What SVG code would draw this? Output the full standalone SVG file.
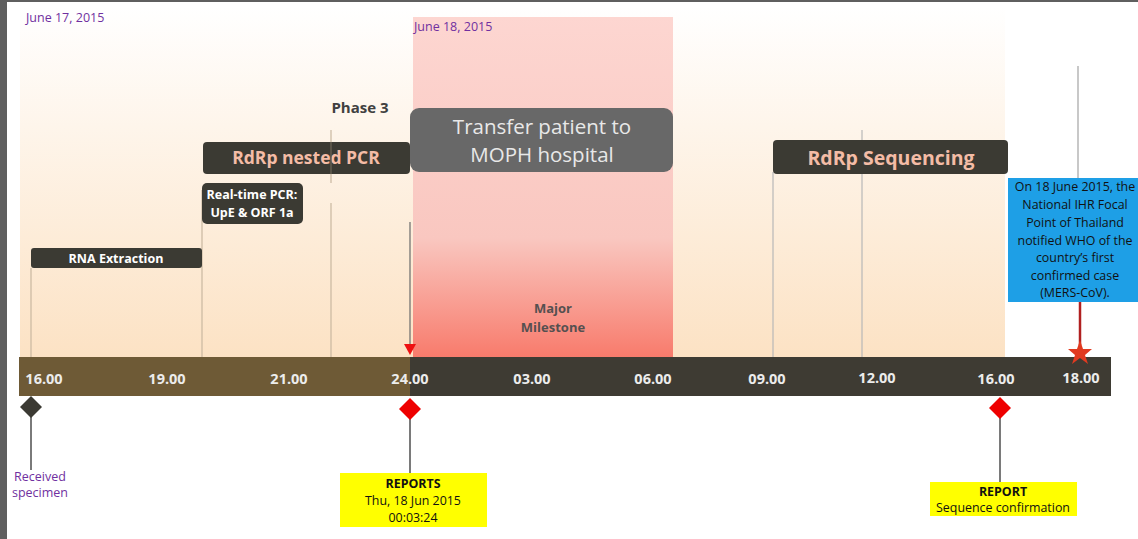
<svg xmlns="http://www.w3.org/2000/svg" width="1138" height="539" viewBox="0 0 1138 539">
<defs>
<linearGradient id="gOr" x1="0" y1="0" x2="0" y2="1">
<stop offset="0" stop-color="#ffffff"/>
<stop offset="1" stop-color="#fce2c4"/>
</linearGradient>
<linearGradient id="gPk" x1="0" y1="0" x2="0" y2="1">
<stop offset="0" stop-color="#fdd6d1"/>
<stop offset="0.65" stop-color="#f9c7c0"/>
<stop offset="1" stop-color="#f87b6c"/>
</linearGradient>
</defs>
<style>
text{font-family:"Open Sans","Noto Sans","Liberation Sans",sans-serif}
.box{fill:#3b3a33}
.wt{fill:#ffffff;font-weight:bold;font-size:12.5px;text-anchor:middle}
.pk{fill:#f4bca6;font-weight:bold;text-anchor:middle}
.tick{fill:#ececec;font-weight:bold;font-size:14.5px;text-anchor:middle}
.vl{stroke:#c9b8a0;stroke-width:1.2}
.vg{stroke:#b8b8b8;stroke-width:1.2}
.pu{fill:#7030a0;font-size:12.5px}
.blk{fill:#111;font-size:12.4px;text-anchor:middle}
.stem{stroke:#7a7a7a;stroke-width:2}
</style>
<rect x="0" y="0" width="1138" height="539" fill="#ffffff"/>
<rect x="0" y="0" width="7" height="539" fill="#5f5f5f"/>
<rect x="0" y="0" width="1138" height="2" fill="#5f5f5f"/>
<rect x="20" y="6" width="985" height="351" fill="url(#gOr)"/>
<rect x="413" y="17" width="260" height="340" fill="url(#gPk)"/>
<text class="pu" x="26" y="22">June 17, 2015</text>
<text class="pu" x="414" y="31">June 18, 2015</text>

<g id="connectors">
<line class="vl" x1="31" y1="268" x2="31" y2="357"/>
<line class="vl" x1="202" y1="190" x2="202" y2="357"/>
<line class="vl" x1="331" y1="130" x2="331" y2="183"/>
<line class="vl" x1="331" y1="203" x2="331" y2="357"/>
<line x1="410" y1="222" x2="410" y2="350" stroke="#6a6a6a" stroke-width="1.2"/>
<line class="vg" x1="773" y1="172" x2="773" y2="357"/>
<line class="vg" x1="862" y1="130" x2="862" y2="357"/>
<line x1="1078" y1="66" x2="1078" y2="178" stroke="#c8c8c8" stroke-width="2"/>
<line x1="1080" y1="302" x2="1080" y2="345" stroke="#b02020" stroke-width="2.5"/>
<line class="stem" x1="31" y1="416" x2="31" y2="470"/>
<line class="stem" x1="410" y1="419" x2="410" y2="473"/>
<line class="stem" x1="1000" y1="418" x2="1000" y2="482"/>
</g>

<g id="timeline">
<rect x="19" y="357" width="391" height="39" fill="#6e5a36"/>
<rect x="410" y="357" width="701" height="39" fill="#3e3b33"/>
<text class="tick" x="44" y="384">16.00</text>
<text class="tick" x="167" y="384">19.00</text>
<text class="tick" x="289" y="384">21.00</text>
<text class="tick" x="410" y="384">24.00</text>
<text class="tick" x="532" y="384">03.00</text>
<text class="tick" x="653" y="384">06.00</text>
<text class="tick" x="767" y="384">09.00</text>
<text class="tick" x="877" y="383">12.00</text>
<text class="tick" x="996" y="384">16.00</text>
<text class="tick" x="1081" y="383">18.00</text>
</g>

<g id="rna">
<rect class="box" x="31" y="248" width="171" height="20" rx="3"/>
<text class="wt" x="116" y="263" font-size="13">RNA Extraction</text>
</g>
<g id="realtime">
<rect class="box" x="202" y="183" width="101" height="41" rx="5"/>
<text class="wt" x="252" y="199">Real-time PCR:</text>
<text class="wt" x="252" y="217">UpE &amp; ORF 1a</text>
</g>
<g id="nested">
<rect class="box" x="203" y="142" width="207" height="32" rx="4"/>
<text class="pk" x="306" y="164" font-size="17.5">RdRp nested PCR</text>
</g>
<line x1="331" y1="142" x2="331" y2="174" stroke="#6e6658" stroke-width="1.2"/>
<g id="phase3">
<text x="360" y="113" fill="#404040" font-weight="bold" font-size="15" text-anchor="middle">Phase 3</text>
</g>
<g id="transfer">
<rect x="410" y="108" width="263" height="64" rx="9" fill="#686868"/>
<text x="542" y="134" fill="#e8e8e8" font-size="20.5" text-anchor="middle">Transfer patient to</text>
<text x="542" y="162" fill="#e8e8e8" font-size="20.5" text-anchor="middle">MOPH hospital</text>
</g>
<g id="sequencing">
<rect class="box" x="773" y="140" width="235" height="34" rx="4"/>
<text class="pk" x="891" y="165" font-size="19.5">RdRp Sequencing</text>
</g>
<g id="milestone">
<text x="553" y="313" fill="#555050" font-weight="bold" font-size="13" text-anchor="middle">Major</text>
<text x="553" y="332" fill="#555050" font-weight="bold" font-size="13" text-anchor="middle">Milestone</text>
<polygon points="404,344 416,344 410,355" fill="#ee1111"/>
</g>
<g id="who">
<rect x="1008" y="178" width="130" height="124" fill="#1e9fe6"/>
<text class="blk" x="1075" y="191">On 18 June 2015, the</text>
<text class="blk" x="1075" y="209">National IHR Focal</text>
<text class="blk" x="1075" y="227">Point of Thailand</text>
<text class="blk" x="1075" y="245">notified WHO of the</text>
<text class="blk" x="1075" y="262">country’s first</text>
<text class="blk" x="1075" y="280">confirmed case</text>
<text class="blk" x="1075" y="297">(MERS-CoV).</text>
</g>
<g id="star">
<polygon points="1080,340 1083,349 1092,349 1085,355 1088,364 1080,358 1072,364 1075,355 1068,349 1077,349" fill="#e03a20"/>
</g>
<g id="received">
<polygon points="31,396 42,407 31,418 20,407" fill="#3b3a33"/>
<text class="pu" x="40" y="481" text-anchor="middle" font-size="12">Received</text>
<text class="pu" x="40" y="497" text-anchor="middle" font-size="12">specimen</text>
</g>
<g id="reports">
<polygon points="410,398 421,409 410,420 399,409" fill="#ee0000"/>
<rect x="340" y="473" width="147" height="54" fill="#ffff00"/>
<text class="blk" x="413" y="488" font-weight="bold">REPORTS</text>
<text class="blk" x="413" y="505">Thu, 18 Jun 2015</text>
<text class="blk" x="413" y="522">00:03:24</text>
</g>
<g id="report">
<polygon points="1000,397 1011,408 1000,419 989,408" fill="#ee0000"/>
<rect x="930" y="482" width="147" height="34" fill="#ffff00"/>
<text class="blk" x="1003" y="496" font-weight="bold">REPORT</text>
<text class="blk" x="1003" y="512">Sequence confirmation</text>
</g>
</svg>
